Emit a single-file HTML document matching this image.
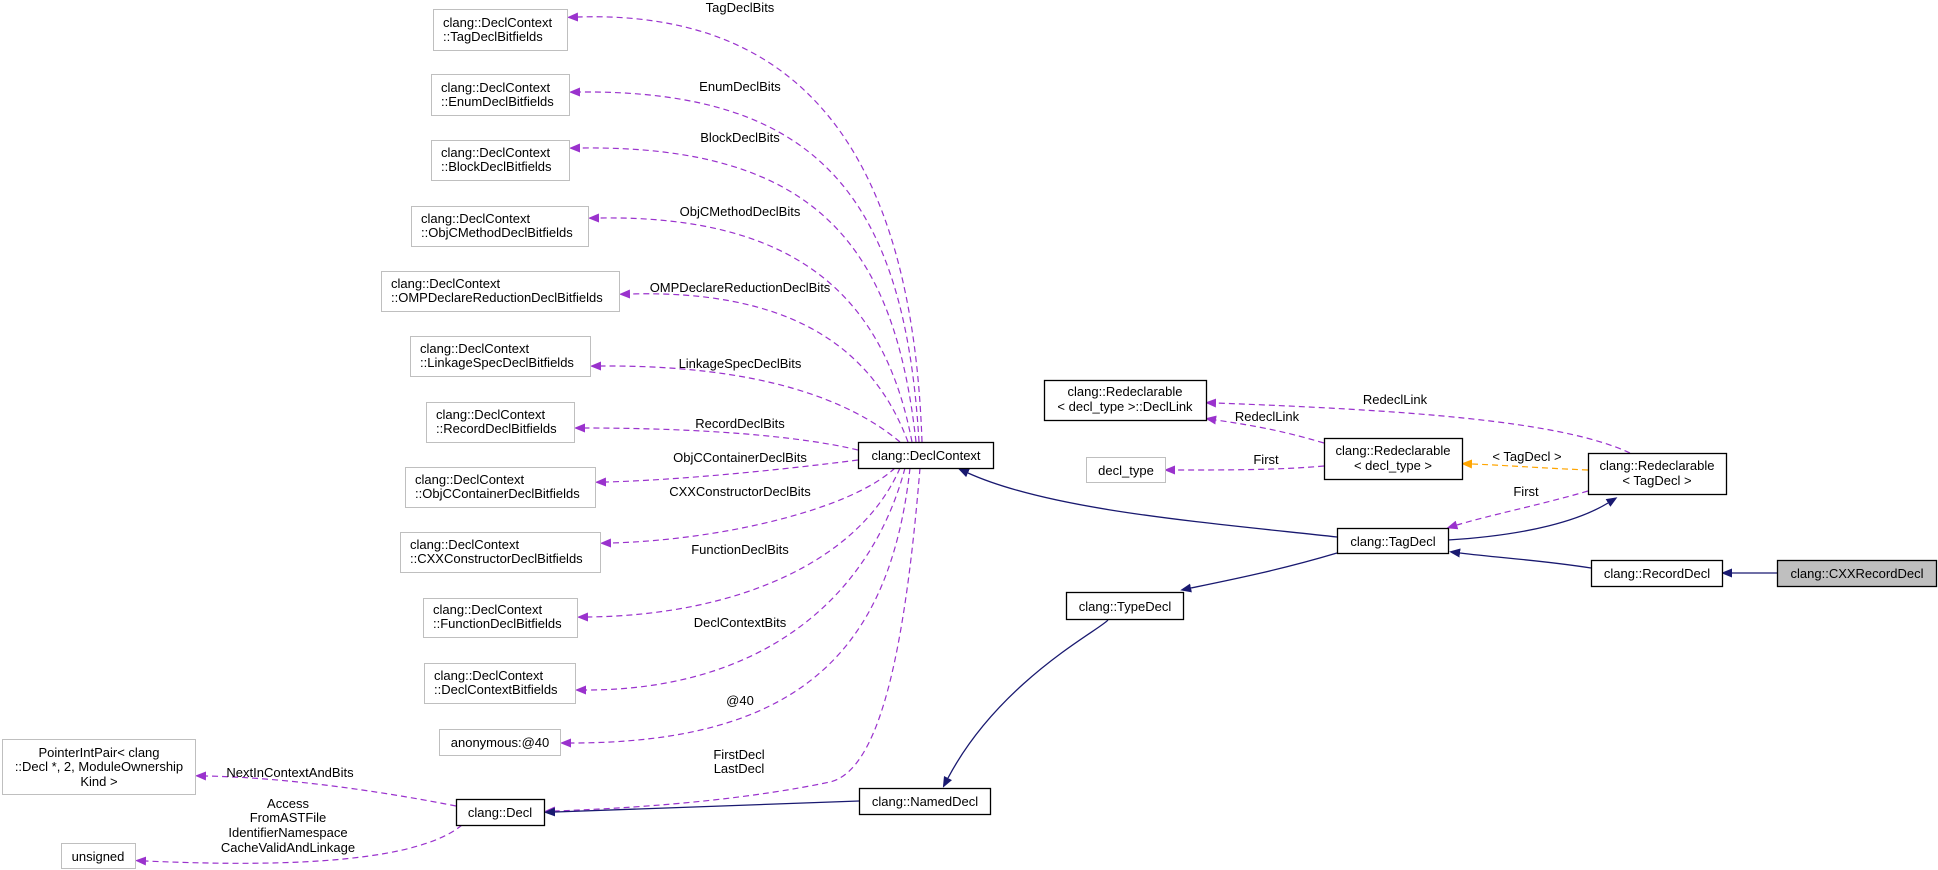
<!DOCTYPE html>
<html><head><meta charset="utf-8"><style>
html,body{margin:0;padding:0;background:#fff;}
svg{display:block;font-family:"Liberation Sans",Arial,sans-serif;font-size:13px;}
</style></head><body>
<svg width="1938" height="870" viewBox="0 0 1938 870" xmlns="http://www.w3.org/2000/svg">
<defs>
<marker id="ap" markerUnits="userSpaceOnUse" markerWidth="11" markerHeight="9" refX="0" refY="4.5" orient="auto"><path d="M0,0 L11,4.5 L0,9 Z" fill="#9a32cd"/></marker>
<marker id="an" markerUnits="userSpaceOnUse" markerWidth="11" markerHeight="9" refX="0" refY="4.5" orient="auto"><path d="M0,0 L11,4.5 L0,9 Z" fill="#191970"/></marker>
<marker id="ao" markerUnits="userSpaceOnUse" markerWidth="11" markerHeight="9" refX="0" refY="4.5" orient="auto"><path d="M0,0 L11,4.5 L0,9 Z" fill="#ffa500"/></marker>
</defs>

<!-- purple dashed edges -->
<g fill="none" stroke="#9a32cd" stroke-width="1.2" stroke-dasharray="6,4" marker-end="url(#ap)">
<path d="M922,442 C912,150 800,10 578,17"/>
<path d="M919,442 C905,200 820,90 580,92"/>
<path d="M916,442 C895,250 820,145 580,148"/>
<path d="M912,442 C885,300 800,215 599,218"/>
<path d="M908,442 C870,340 780,290 630,294"/>
<path d="M900,442 C850,400 760,365 601,366"/>
<path d="M858,450 C800,436 700,428 585,428"/>
<path d="M858,460 C780,470 680,480 606,482"/>
<path d="M895,468 C850,510 720,540 611,543"/>
<path d="M900,468 C860,560 740,615 588,617"/>
<path d="M905,468 C870,600 760,690 586,690"/>
<path d="M910,468 C890,650 800,743 571,743"/>
<path d="M920,468 C905,650 880,770 830,782 Q720,805 555,811"/>
<path d="M456,806 C400,795 300,778 206,776"/>
<path d="M462,825 C420,860 300,868 146,861"/>
<path d="M1630,453 C1560,420 1400,410 1216,403"/>
<path d="M1324,443 C1280,430 1250,425 1216,420"/>
<path d="M1324,466 C1280,470 1230,470 1175,470"/>
<path d="M1588,491 C1540,505 1490,515 1457,525"/>
</g>
<path d="M1588,470 C1540,468 1500,465 1472,464" fill="none" stroke="#ffa500" stroke-width="1.2" stroke-dasharray="6,4" marker-end="url(#ao)"/>

<!-- navy edges -->
<g fill="none" stroke="#191970" stroke-width="1.3" marker-end="url(#an)">
<path d="M1337,537 C1200,522 1050,510 968,473"/>
<path d="M1448,540 C1530,535 1580,520 1608,503"/>
<path d="M1591,568 C1540,560 1500,558 1460,553"/>
<path d="M1777,573 L1732,573"/>
<path d="M1337,553 C1280,570 1230,580 1191,588"/>
<path d="M1108,620 C1100,630 1000,680 948,778"/>
<path d="M859,801 L555,812"/>
</g>

<!-- gray nodes -->
<g fill="#fff" stroke="#bfbfbf" stroke-width="1">
<rect x="433.5" y="9.5" width="134" height="41"/>
<rect x="431.5" y="74.5" width="138" height="41"/>
<rect x="431.5" y="140.5" width="138" height="40"/>
<rect x="411.5" y="206.5" width="177" height="40"/>
<rect x="381.5" y="271.5" width="238" height="40"/>
<rect x="410.5" y="336.5" width="180" height="40"/>
<rect x="426.5" y="402.5" width="148" height="40"/>
<rect x="405.5" y="467.5" width="190" height="40"/>
<rect x="400.5" y="532.5" width="200" height="40"/>
<rect x="423.5" y="598.5" width="154" height="39"/>
<rect x="424.5" y="663.5" width="151" height="40"/>
<rect x="439.5" y="729.5" width="121" height="26"/>
<rect x="2.5" y="739.5" width="193" height="55"/>
<rect x="61.5" y="843.5" width="74" height="25"/>
<rect x="1086.5" y="457.5" width="79" height="25"/>
</g>
<!-- black nodes -->
<g fill="#fff" stroke="#000" stroke-width="1.3">
<rect x="858.5" y="442.5" width="135" height="26"/>
<rect x="1044.5" y="380.5" width="162" height="40"/>
<rect x="1324.5" y="438.5" width="138" height="41"/>
<rect x="1588.5" y="453.5" width="138" height="41"/>
<rect x="1337.5" y="528.5" width="111" height="25"/>
<rect x="1591.5" y="560.5" width="131" height="26"/>
<rect x="1066.5" y="592.5" width="117" height="27"/>
<rect x="456.5" y="799.5" width="88" height="26"/>
<rect x="859.5" y="788.5" width="131" height="26"/>
<rect x="1777.5" y="560.5" width="159" height="26" fill="#bfbfbf"/>
</g>

<!-- node text -->
<g fill="#000">
<text x="443" y="27">clang::DeclContext</text><text x="443" y="41">::TagDeclBitfields</text>
<text x="441" y="92">clang::DeclContext</text><text x="441" y="106">::EnumDeclBitfields</text>
<text x="441" y="157">clang::DeclContext</text><text x="441" y="171">::BlockDeclBitfields</text>
<text x="421" y="223">clang::DeclContext</text><text x="421" y="237">::ObjCMethodDeclBitfields</text>
<text x="391" y="288">clang::DeclContext</text><text x="391" y="302">::OMPDeclareReductionDeclBitfields</text>
<text x="420" y="353">clang::DeclContext</text><text x="420" y="367">::LinkageSpecDeclBitfields</text>
<text x="436" y="419">clang::DeclContext</text><text x="436" y="433">::RecordDeclBitfields</text>
<text x="415" y="484">clang::DeclContext</text><text x="415" y="498">::ObjCContainerDeclBitfields</text>
<text x="410" y="549">clang::DeclContext</text><text x="410" y="563">::CXXConstructorDeclBitfields</text>
<text x="433" y="614">clang::DeclContext</text><text x="433" y="628">::FunctionDeclBitfields</text>
<text x="434" y="680">clang::DeclContext</text><text x="434" y="694">::DeclContextBitfields</text>
</g>
<g fill="#000" text-anchor="middle">
<text x="500" y="747">anonymous:@40</text>
<text x="99" y="757">PointerIntPair&lt; clang</text>
<text x="99" y="771">::Decl *, 2, ModuleOwnership</text>
<text x="99" y="786">Kind &gt;</text>
<text x="98" y="861">unsigned</text>
<text x="1126" y="475">decl_type</text>
<text x="926" y="460">clang::DeclContext</text>
<text x="1125" y="396">clang::Redeclarable</text><text x="1125" y="411">&lt; decl_type &gt;::DeclLink</text>
<text x="1393" y="455">clang::Redeclarable</text><text x="1393" y="470">&lt; decl_type &gt;</text>
<text x="1657" y="470">clang::Redeclarable</text><text x="1657" y="485">&lt; TagDecl &gt;</text>
<text x="1393" y="546">clang::TagDecl</text>
<text x="1657" y="578">clang::RecordDecl</text>
<text x="1857" y="578">clang::CXXRecordDecl</text>
<text x="1125" y="611">clang::TypeDecl</text>
<text x="500" y="817">clang::Decl</text>
<text x="925" y="806">clang::NamedDecl</text>
</g>

<!-- edge labels -->
<g fill="#000" text-anchor="middle">
<text x="740" y="12">TagDeclBits</text>
<text x="740" y="91">EnumDeclBits</text>
<text x="740" y="142">BlockDeclBits</text>
<text x="740" y="216">ObjCMethodDeclBits</text>
<text x="740" y="292">OMPDeclareReductionDeclBits</text>
<text x="740" y="368">LinkageSpecDeclBits</text>
<text x="740" y="428">RecordDeclBits</text>
<text x="740" y="462">ObjCContainerDeclBits</text>
<text x="740" y="496">CXXConstructorDeclBits</text>
<text x="740" y="554">FunctionDeclBits</text>
<text x="740" y="627">DeclContextBits</text>
<text x="740" y="705">@40</text>
<text x="739" y="759">FirstDecl</text>
<text x="739" y="773">LastDecl</text>
<text x="290" y="777">NextInContextAndBits</text>
<text x="288" y="808">Access</text>
<text x="288" y="822">FromASTFile</text>
<text x="288" y="837">IdentifierNamespace</text>
<text x="288" y="852">CacheValidAndLinkage</text>
<text x="1395" y="404">RedeclLink</text>
<text x="1267" y="421">RedeclLink</text>
<text x="1266" y="464">First</text>
<text x="1527" y="461">&lt; TagDecl &gt;</text>
<text x="1526" y="496">First</text>
</g>
</svg>
</body></html>
